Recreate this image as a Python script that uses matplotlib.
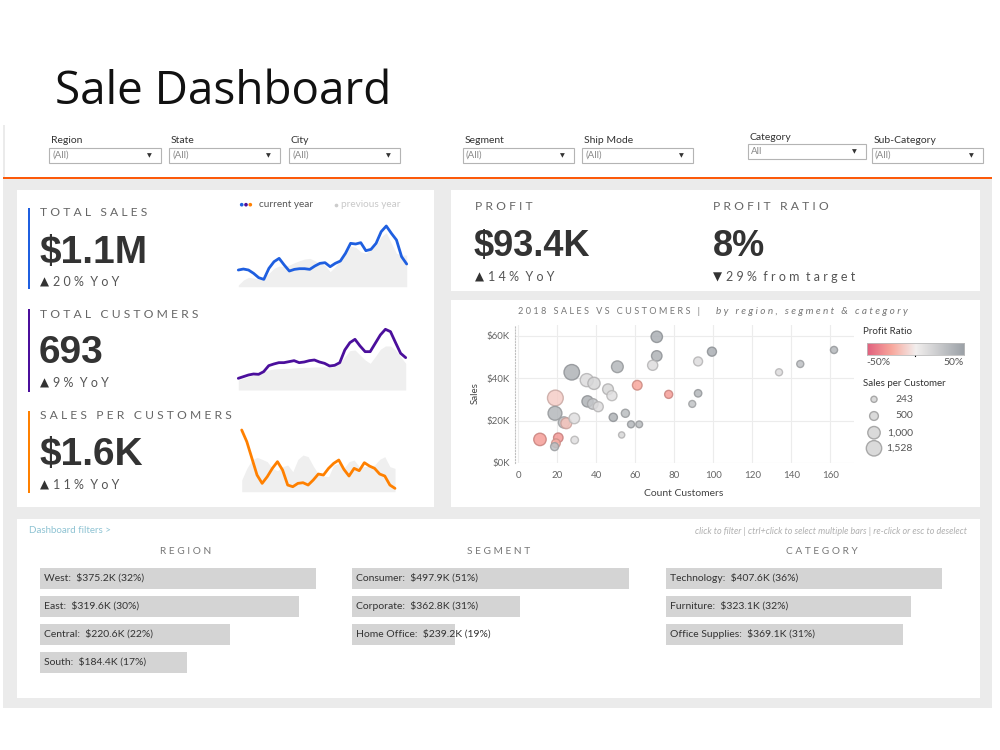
import numpy as np
import matplotlib
matplotlib.use('Agg')
import matplotlib.pyplot as plt
from matplotlib.patches import Rectangle
from matplotlib.colors import LinearSegmentedColormap, Normalize
from matplotlib.ticker import FuncFormatter

W, H, DPI = 1000, 750, 100

# ---------------- data ----------------
# sparklines (relative heights)
sales_cur = [50, 53, 50, 40, 27, 22, 55, 75, 85, 65, 47, 52, 54, 54, 52, 62, 70,
             72, 60, 70, 77, 100, 130, 128, 132, 108, 112, 130, 165, 182, 160, 140, 90, 68]
sales_prev = [5, 20, 28, 26, 22, 28, 40, 55, 62, 60, 65, 72, 78, 83, 85, 78, 70,
              64, 45, 60, 80, 100, 122, 118, 105, 100, 112, 125, 150, 162, 130, 100, 95, 95]
cust_cur = [35, 40, 45, 48, 47, 55, 73, 78, 82, 82, 85, 88, 82, 84, 88, 90, 84,
            80, 72, 74, 82, 120, 142, 152, 132, 115, 115, 140, 165, 182, 175, 142, 110, 97]
cust_prev = [30, 35, 40, 45, 50, 55, 60, 63, 64, 65, 65, 66, 67, 68, 68, 69, 69,
             70, 68, 70, 80, 100, 118, 120, 105, 90, 80, 100, 122, 132, 132, 120, 100, 80]
spc_cur = [185, 150, 100, 50, 25, 45, 70, 90, 65, 20, 15, 25, 27, 20, 35, 53,
           50, 70, 85, 95, 67, 47, 70, 63, 87, 77, 70, 53, 47, 20, 10]
spc_prev = [35, 70, 95, 103, 97, 90, 70, 63, 75, 80, 60, 97, 110, 105, 77, 53,
            47, 45, 80, 85, 70, 90, 95, 75, 75, 77, 80, 97, 105, 75, 70]

# scatter: 2018 sales vs customers
sc_customers = [71, 71, 99.3, 92.2, 68.9, 50.8, 27.4, 35.1, 38.8, 46, 48, 61, 77.1, 92.2,
                89.2, 19, 35.5, 38.2, 41, 18.8, 28.7, 23.4, 24.6, 48.7, 54.9, 57.8, 62,
                53, 11.1, 20.5, 19.3, 18.6, 28.9, 133.7, 144.6, 161.9]
sc_sales_k = [59.4, 50.4, 52.4, 47.8, 46, 45.3, 42.7, 39, 37.5, 34.7, 31.7, 36.6, 32.3, 32.8,
              27.8, 30.6, 29, 27.8, 26.5, 23.4, 21, 19.1, 18.7, 21.5, 23.4, 18.2, 18.2,
              13.2, 11.1, 11.9, 9.3, 7.7, 10.8, 42.7, 46.6, 53.2]
sc_profit_ratio = [0.40, 0.38, 0.40, 0.12, 0.12, 0.35, 0.38, 0.12, 0.15, 0.15, 0.10, -0.25,
                   -0.28, 0.35, 0.28, -0.12, 0.38, 0.25, 0.12, 0.35, 0.10, 0.30, -0.15, 0.38,
                   0.32, 0.35, 0.33, 0.15, -0.28, -0.30, -0.22, 0.30, 0.10, 0.12, 0.30, 0.35]
legend_spc = [243, 500, 1000, 1528]
legend_spc_labels = ['243', '500', '1,000', '1,528']

# bar groups
region_names = ['West', 'East', 'Central', 'South']
region_sales = [375.2, 319.6, 220.6, 184.4]
region_pct = [32, 30, 22, 17]
segment_names = ['Consumer', 'Corporate', 'Home Office']
segment_sales = [497.9, 362.8, 239.2]
segment_pct = [51, 31, 19]
category_names = ['Technology', 'Furniture', 'Office Supplies']
category_sales = [407.6, 323.1, 369.1]
category_pct = [36, 32, 31]

filter_names = ['Region', 'State', 'City', 'Segment', 'Ship Mode', 'Category', 'Sub-Category']
filter_values = ['(All)', '(All)', '(All)', '(All)', '(All)', 'All', '(All)']

# ---------------- figure ----------------
plt.rcParams['font.family'] = ['Lato', 'DejaVu Sans']
fig = plt.figure(figsize=(W / DPI, H / DPI), dpi=DPI)
fig.patch.set_facecolor('white')
bg = fig.add_axes([0, 0, 1, 1])
bg.set_xlim(0, W)
bg.set_ylim(H, 0)
bg.axis('off')


def rect(x0, y0, x1, y1, **kw):
    bg.add_patch(Rectangle((x0, y0), x1 - x0, y1 - y0, **kw))


def pax(x0, y0, x1, y1):
    return fig.add_axes([x0 / W, 1 - y1 / H, (x1 - x0) / W, (y1 - y0) / H])


def tr(s):
    return ' '.join(s)


BLUE, PURPLE, ORANGE = '#1f5fe0', '#4b0f9c', '#ff8000'
NUMFONT = 'Liberation Sans'

# title
bg.text(55, 104, 'Sale Dashboard', fontsize=33, family='Open Sans', color='#111',
        va='baseline')

# background areas
rect(3, 125, 992, 708, fc='#ebebeb', ec='none')
rect(4.5, 125, 992, 176.5, fc='white', ec='none')
rect(3, 176.5, 992, 179, fc='#fc5a0a', ec='none')
for (x0, y0, x1, y1) in [(17, 190, 434, 507), (451, 190, 980, 291),
                         (451, 300, 980, 507), (17, 519, 980, 698)]:
    rect(x0, y0, x1, y1, fc='white', ec='none')

# filters
fx = [(49.3, 160.7), (169.3, 280.3), (289.3, 400), (462.7, 574.3), (582.3, 693.3),
      (748.3, 865.7), (871.7, 983.3)]
fy = [(147.7, 163.3)] * 5 + [(144, 159.3)] + [(147.7, 163.3)]
for name, val, (x0, x1), (y0, y1) in zip(filter_names, filter_values, fx, fy):
    bg.text(x0 + 1.5, y0 - 7, name, fontsize=7.5, color='#333', va='center')
    rect(x0, y0, x1, y1, fc='white', ec='#b4b4b4', lw=0.8)
    bg.text(x0 + 3, (y0 + y1) / 2, val, fontsize=7, color='#888', va='center')
    bg.text(x1 - 11.5, (y0 + y1) / 2, '▼', fontsize=4.5, color='#333', ha='center',
            va='center', family='DejaVu Sans')

# ---------------- KPI left panel ----------------
kpis = [('TOTAL SALES', '$1.1M', '20%', BLUE, 208.3, 289.3, 213, 262.7, 282),
        ('TOTAL CUSTOMERS', '693', '9%', PURPLE, 309.3, 391.7, 314, 363, 383),
        ('SALES PER CUSTOMERS', '$1.6K', '11%', ORANGE, 411, 493.3, 415.7, 465, 485)]
for label, value, yoy, col, b0, b1, ly, vy, yy in kpis:
    rect(28.3, b0, 30.3, b1, fc=col, ec='none')
    bg.text(40, ly, tr(label), fontsize=8.7, color='#666', va='center')
    bg.text(39, vy, value, fontsize=28, family=NUMFONT, weight='bold', color='#333',
            va='baseline')
    bg.text(40, yy, '▲', fontsize=8.5, color='#333', va='center', family='DejaVu Sans')
    bg.text(53, yy, tr(yoy) + '  ' + tr('YoY'), fontsize=9, color='#555', va='center')


def spark(x0, y0, x1, y1, cur, prev, color):
    ax = pax(x0, y0, x1, y1)
    xs = np.arange(len(cur))
    ax.fill_between(xs, 0, prev, color='#efefef', lw=0)
    ax.plot(xs, cur, color=color, lw=2, solid_capstyle='round', clip_on=False)
    ax.set_xlim(0, len(cur) - 1)
    ax.set_ylim(0, 185)
    ax.axis('off')
    return ax


spark(238.3, 225, 406.7, 286.7, sales_cur, sales_prev, BLUE)
spark(238.3, 328.3, 405.7, 390, cust_cur, cust_prev, PURPLE)
spark(241.7, 430, 395, 491.7, spc_cur, spc_prev, ORANGE)

# sparkline legend
bg.scatter([241.7, 246, 250.3], [204.7] * 3, s=7, c=[BLUE, PURPLE, ORANGE], lw=0)
bg.text(259, 204.5, 'current year', fontsize=7.2, color='#555', va='center')
bg.scatter([336], [204.7], s=7, c='#cccccc', lw=0)
bg.text(341, 204.5, 'previous year', fontsize=7.2, color='#c8c8c8', va='center')

# ---------------- profit panel ----------------
bg.text(475, 206.7, tr('PROFIT'), fontsize=8.7, color='#666', va='center')
bg.text(474, 255.7, '$93.4K', fontsize=26, family=NUMFONT, weight='bold', color='#333',
        va='baseline')
bg.text(475, 276.7, '▲', fontsize=8.5, color='#333', va='center', family='DejaVu Sans')
bg.text(488, 276.7, tr('14%') + '  ' + tr('YoY'), fontsize=9, color='#555', va='center')

bg.text(713, 206.7, tr('PROFIT RATIO'), fontsize=8.7, color='#666', va='center')
bg.text(713, 255.7, '8%', fontsize=26, family=NUMFONT, weight='bold', color='#333',
        va='baseline')
bg.text(713, 276.7, '▼', fontsize=8.5, color='#333', va='center', family='DejaVu Sans')
bg.text(726, 276.7, tr('29%') + '  ' + tr('from') + '  ' + tr('target'), fontsize=9,
        color='#555', va='center')

# ---------------- scatter ----------------
pr_cmap = LinearSegmentedColormap.from_list(
    'pr', [(0, '#e0607e'), (0.25, '#f8a79c'), (0.5, '#f2efee'), (1, '#9aa0a6')])
norm = Normalize(-0.5, 0.5)

bg.text(518, 311.7, tr('2018 SALES VS CUSTOMERS') + '   |', fontsize=6.6, color='#777',
        va='center')
bg.text(716, 311.7, tr('by region, segment & category'), fontsize=7.2, color='#777',
        va='center', style='italic')

ax = pax(515.4, 324.9, 853.7, 463)
ax.patch.set_alpha(0)
ax.set_xlim(-1.5, 172)
ax.set_ylim(0, 65)
ax.set_xticks(range(0, 161, 20))
ax.set_yticks([0, 20, 40, 60])
ax.yaxis.set_major_formatter(FuncFormatter(lambda v, p: f'${v:.0f}K'))
ax.grid(True, color='#ececec', lw=0.8)
ax.set_axisbelow(True)
for s in ['top', 'right', 'bottom']:
    ax.spines[s].set_visible(False)
ax.spines['left'].set_linestyle(':')
ax.spines['left'].set_color('#c0c0c0')
ax.spines['left'].set_linewidth(0.8)
ax.tick_params(length=0, labelsize=7, colors='#666')
ax.tick_params(axis='x', pad=6)
ax.tick_params(axis='y', pad=4)

cust = np.array(sc_customers)
sales = np.array(sc_sales_k)
spc = sales * 1000 / cust
K = 0.08
face = pr_cmap(norm(np.array(sc_profit_ratio)))
edge = face.copy()
edge[:, :3] *= 0.82
order = np.argsort(-spc)
ax.scatter(cust[order], sales[order], s=K * spc[order], c=face[order], edgecolors=edge[order],
           linewidths=1.0, alpha=0.85, clip_on=False, zorder=3)

bg.text(475, 393, 'Sales', fontsize=7, color='#444', rotation=90, ha='center', va='center')
bg.text(684, 493.3, 'Count Customers', fontsize=7.5, color='#444', ha='center', va='center')

# legend
bg.text(863.3, 331.7, 'Profit Ratio', fontsize=7, color='#333', va='center')
cax = pax(866.7, 342.7, 964, 355)
cax.imshow(np.linspace(-0.5, 0.5, 256)[None, :], aspect='auto', cmap=pr_cmap,
           extent=[-0.5, 0.5, 0, 1])
cax.set_xticks([])
cax.set_yticks([])
for sp in cax.spines.values():
    sp.set_color('#bbbbbb')
    sp.set_linewidth(0.6)
bg.plot([915.3, 915.3], [352, 356], color='black', lw=0.8)
bg.text(866.5, 362.7, '-50%', fontsize=7.5, color='#555', va='center')
bg.text(964, 362.7, '50%', fontsize=7.5, color='#555', va='center', ha='right')
bg.text(863, 383.3, 'Sales per Customer', fontsize=7, color='#333', va='center')
leg_y = [399.3, 416, 432.7, 448.3]
bg.scatter([874] * 4, leg_y, s=K * np.array(legend_spc), c='#dadada', edgecolors='#a8a8a8',
           linewidths=1.0, zorder=3)
for yv, lab in zip(leg_y, legend_spc_labels):
    bg.text(913, yv, lab, fontsize=7.5, color='#555', va='center', ha='right')

# ---------------- bottom bars ----------------
bg.text(29, 530.7, 'Dashboard filters >', fontsize=7, color='#8ec3d3', va='center')
bg.text(967, 531.7, 'click to filter | ctrl+click to select multiple bars | re-click or esc to deselect',
        fontsize=6.5, color='#b0b0b0', va='center', ha='right', style='italic')


def bar_group(title, tx, names, vals, pct, x0, x1, y0):
    bg.text(tx, 551.7, tr(title), fontsize=7.3, color='#777', ha='center', va='center')
    n = len(names)
    axb = pax(x0, y0, x1, y0 + (n - 0.25) * 28)
    axb.barh(range(n), pct, height=0.75, color='#d4d4d4')
    axb.set_xlim(0, max(pct))
    axb.set_ylim(n - 1 + 0.375, -0.375)
    axb.axis('off')
    for i, (nm, v, p) in enumerate(zip(names, vals, pct)):
        axb.annotate(f'{nm}:  ${v:.1f}K ({p}%)', (0, i), xytext=(3, 0),
                     textcoords='offset points', va='center', ha='left', fontsize=7.5,
                     color='#333', annotation_clip=False)


bar_group('REGION', 185.3, region_names, region_sales, region_pct, 40, 316, 567.7)
bar_group('SEGMENT', 498.3, segment_names, segment_sales, segment_pct, 352.3, 629, 567.7)
bar_group('CATEGORY', 821.7, category_names, category_sales, category_pct, 666, 941.7, 567.7)

fig.savefig('out.png', dpi=DPI, facecolor='white')
